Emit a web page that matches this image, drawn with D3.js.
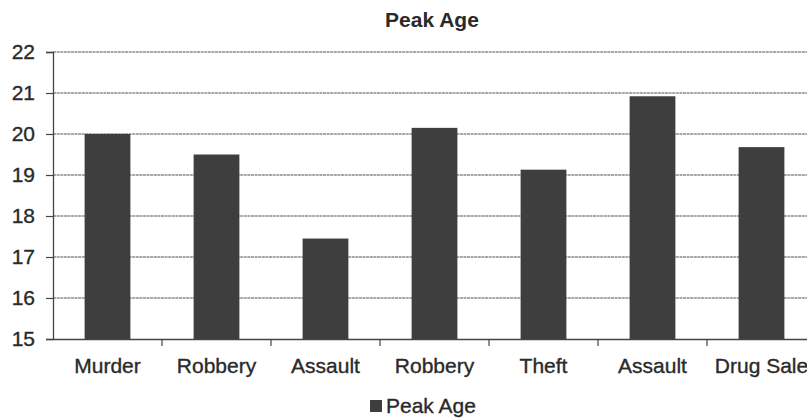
<!DOCTYPE html>
<html><head><meta charset="utf-8">
<script src="https://cdn.jsdelivr.net/npm/d3@7"></script>
<style>body{margin:0;background:#fff;} text{font-family:"Liberation Sans",Arial,Helvetica,sans-serif;}</style>
</head><body>
<svg id="c" width="807" height="419"></svg>
<script>
const categories = ["Murder","Robbery","Assault","Robbery","Theft","Assault","Drug Sale"];
const peakAge = [20.0, 19.5, 17.45, 20.15, 19.13, 20.92, 19.68];
const yTicks = [15,16,17,18,19,20,21,22];
const seriesName = "Peak Age";

const svg = d3.select("#c");
const m = {left:53, right:816, top:52, bottom:339};
const ids = categories.map((d,i)=>i);
const x = d3.scaleBand().domain(ids).range([m.left, m.right]).paddingInner(0.58).paddingOuter(0.29);
const xb = d3.scaleBand().domain(ids).range([m.left, m.right]);
const y = d3.scaleLinear().domain([15,22]).range([m.bottom, m.top]);
const txt = "#2a2a2a";

// gridlines
svg.append("g").selectAll("line").data(yTicks.slice(1)).join("line")
  .attr("x1", m.left).attr("x2", 807).attr("y1", d=>y(d)).attr("y2", d=>y(d))
  .attr("stroke","#555").attr("stroke-width",1.1).attr("stroke-dasharray","3,0.6");

// y axis
const ya = svg.append("g").attr("transform",`translate(${m.left},0)`)
  .call(d3.axisLeft(y).tickValues(yTicks).tickSize(7).tickPadding(11).tickFormat(d3.format("d")));
ya.select(".domain").attr("stroke","#444").attr("stroke-width",1.3);
ya.selectAll(".tick line").attr("stroke","#444").attr("stroke-width",1.2);
ya.selectAll("text").attr("font-size",21).attr("fill",txt).attr("stroke",txt).attr("stroke-width",0.35)
  .attr("font-family","Liberation Sans, Arial, sans-serif");

// bars
svg.append("g").selectAll("rect").data(peakAge).join("rect")
  .attr("x",(d,i)=>x(i)).attr("width",x.bandwidth())
  .attr("y",d=>y(d)).attr("height",d=>y(15)-y(d))
  .attr("fill","#3e3e3e");

// x axis
const xa = svg.append("g").attr("transform",`translate(0,${m.bottom})`)
  .call(d3.axisBottom(xb).tickSize(0).tickPadding(19).tickFormat(i=>categories[i]));
xa.select(".domain").attr("stroke","#444").attr("stroke-width",1.3);
xa.selectAll("text").attr("font-size",21).attr("fill",txt).attr("stroke",txt).attr("stroke-width",0.35)
  .attr("font-family","Liberation Sans, Arial, sans-serif");
// category separator ticks
svg.append("g").selectAll("line").data(ids.slice(1)).join("line")
  .attr("x1",i=>xb(i)).attr("x2",i=>xb(i)).attr("y1",m.bottom).attr("y2",m.bottom+7)
  .attr("stroke","#444").attr("stroke-width",1.2);

// title
svg.append("text").attr("x",432).attr("y",27).attr("text-anchor","middle")
  .attr("font-size",21).attr("font-weight","bold").attr("fill",txt).text(seriesName);

// legend
const lg = svg.append("g").attr("transform","translate(370,400)");
lg.append("rect").attr("width",12).attr("height",12).attr("fill","#3e3e3e");
lg.append("text").attr("x",16).attr("y",13).attr("font-size",21).attr("fill",txt)
  .attr("stroke",txt).attr("stroke-width",0.35).text(seriesName);
</script>
</body></html>
